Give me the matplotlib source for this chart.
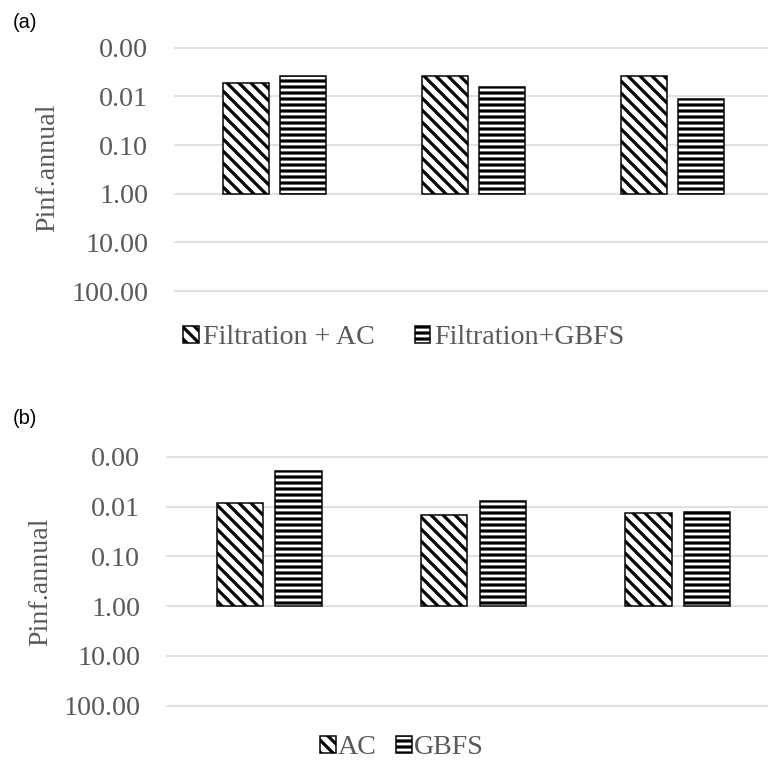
import numpy as np
import matplotlib
matplotlib.use("Agg")
import matplotlib.pyplot as plt
from matplotlib.ticker import FixedLocator, FixedFormatter

# ---- data ----
groups = ["G1", "G2", "G3"]
a_labels = ["Filtration + AC", "Filtration+GBFS"]
a_ac = [0.0053, 0.0038, 0.0038]
a_gbfs = [0.0038, 0.0063, 0.0115]
b_labels = ["AC", "GBFS"]
b_ac = [0.0087, 0.015, 0.0135]
b_gbfs = [0.0019, 0.0076, 0.013]
yticks = [0.001, 0.01, 0.1, 1, 10, 100]
ytick_labels = ["0.00", "0.01", "0.10", "1.00", "10.00", "100.00"]

GRAY = "#595959"
GRID = "#d9d9d9"
plt.rcParams["hatch.linewidth"] = 3.2
plt.rcParams["font.family"] = ["Liberation Serif", "DejaVu Serif"]

DPI = 72
fig = plt.figure(figsize=(768 / DPI, 766 / DPI), dpi=DPI)
W, H = 768.0, 766.0

def make_axes(left, right, top, bottom):
    return fig.add_axes([left / W, 1 - bottom / H, (right - left) / W, (bottom - top) / H])

ax_a = make_axes(175, 772, 47.7, 291)
ax_b = make_axes(167, 780, 456.7, 705.7)

width = 0.227
off = 0.143
x = np.arange(len(groups))

def draw(ax, s1, s2, labels):
    ax.set_yscale("log")
    ax.set_ylim(100, 0.001)
    ax.set_xlim(-0.5, 2.5)
    b1 = ax.bar(x - off, np.array(s1) - 1, bottom=1, width=width, facecolor="white",
                edgecolor="black", hatch="\\\\", linewidth=1.5, label=labels[0], zorder=3)
    b2 = ax.bar(x + off, np.array(s2) - 1, bottom=1, width=width, facecolor="white",
                edgecolor="black", hatch="--", linewidth=1.5, label=labels[1], zorder=3)
    ax.yaxis.set_major_locator(FixedLocator(yticks))
    ax.yaxis.set_major_formatter(FixedFormatter(ytick_labels))
    ax.yaxis.set_minor_locator(FixedLocator([]))
    ax.set_xticks([])
    ax.tick_params(axis="y", length=0, pad=27, labelsize=28, labelcolor=GRAY)
    ax.grid(axis="y", color=GRID, linewidth=1.6)
    for ln in ax.get_ygridlines():
        ln.set_clip_on(False)
    ax.set_axisbelow(True)
    for s in ax.spines.values():
        s.set_visible(False)
    return b1, b2

h_a = draw(ax_a, a_ac, a_gbfs, a_labels)
h_b = draw(ax_b, b_ac, b_gbfs, b_labels)

fig.text(48 / W, 1 - 168 / H, "Pinf.annual", rotation=90, ha="center", va="center",
         fontsize=28, color=GRAY)
fig.text(41 / W, 1 - 582 / H, "Pinf.annual", rotation=90, ha="center", va="center",
         fontsize=28, color=GRAY)

fig.text(13 / W, 1 - 22 / H, "(a)", fontsize=20, family=["Liberation Sans"], ha="left", va="center")
fig.text(13 / W, 1 - 419 / H, "(b)", fontsize=20, family=["Liberation Sans"], ha="left", va="center")

leg_a = fig.legend(h_a, a_labels, loc="center", bbox_to_anchor=(404 / W, 1 - 338 / H), ncol=2,
                   frameon=False, fontsize=28, handlelength=0.55, handleheight=0.55,
                   handletextpad=0.15, columnspacing=1.45, borderpad=0, borderaxespad=0)
for t in leg_a.get_texts():
    t.set_color(GRAY)
leg_b = fig.legend(h_b, b_labels, loc="center", bbox_to_anchor=(402 / W, 1 - 748 / H), ncol=2,
                   frameon=False, fontsize=28, handlelength=0.55, handleheight=0.55,
                   handletextpad=0.08, columnspacing=0.7, borderpad=0, borderaxespad=0)
for t in leg_b.get_texts():
    t.set_color(GRAY)

fig.savefig("out.png", dpi=DPI, facecolor="white")
